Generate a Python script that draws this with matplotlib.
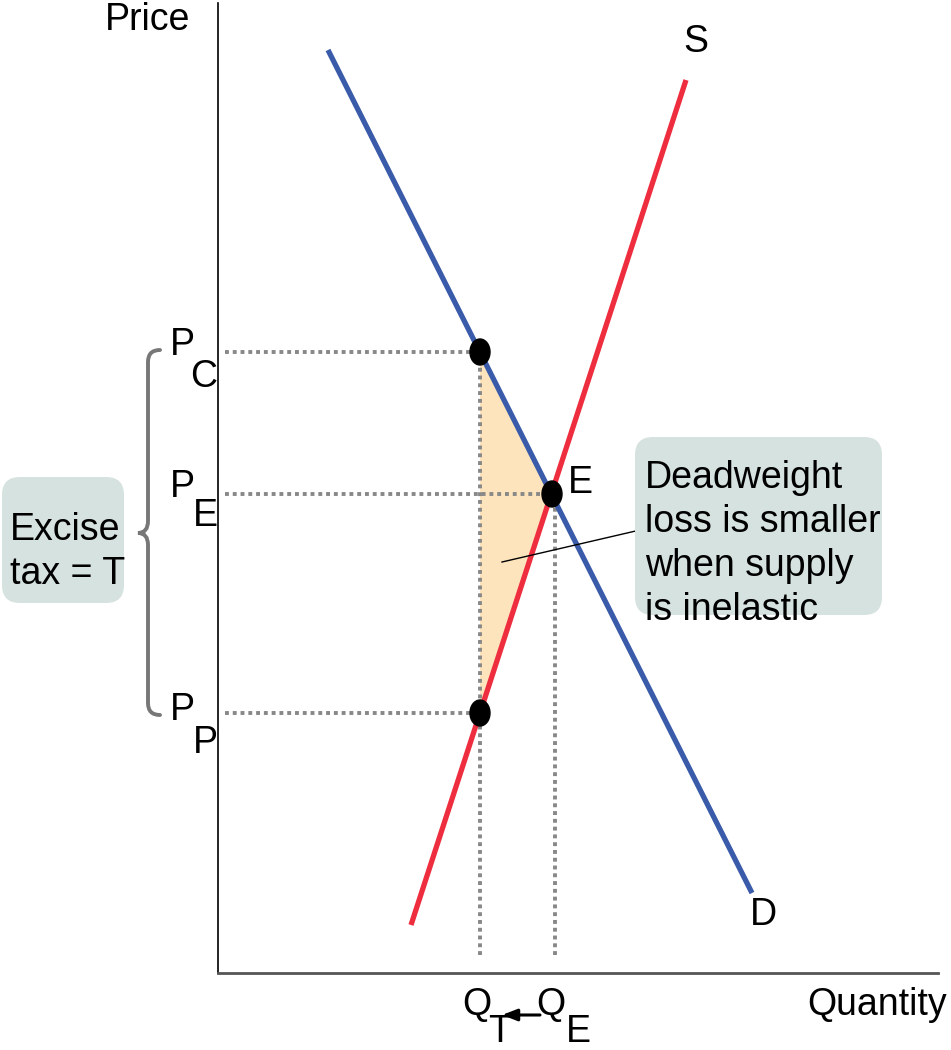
import matplotlib
matplotlib.use("Agg")
import matplotlib.pyplot as plt
from matplotlib.patches import FancyBboxPatch, Ellipse, PathPatch, Polygon
from matplotlib.path import Path

plt.rcParams['font.family'] = ['Liberation Sans', 'DejaVu Sans']

# curves (quantity, price) in chart units
demand_q = [110, 534]
demand_p = [923, 80]
supply_q = [193, 468]
supply_p = [48, 893]

# key points
q_t, q_e = 262, 334
p_c, p_e, p_p = 621, 479, 260

fig = plt.figure(figsize=(9.51, 10.5), dpi=100)
ax = fig.add_axes([218 / 951, 77 / 1050, 720 / 951, 970 / 1050])
ax.set_xlim(0, 720)
ax.set_ylim(0, 970)
for side in ['top', 'right']:
    ax.spines[side].set_visible(False)
ax.spines['left'].set_color('black')
ax.spines['left'].set_linewidth(1.2)
ax.spines['bottom'].set_color('#555555')
ax.spines['bottom'].set_linewidth(2)
ax.set_xticks([])
ax.set_yticks([])

fs = 27
grey = '#888888'

# deadweight loss triangle
ax.add_patch(Polygon([[q_t, p_c], [q_e, p_e], [q_t, p_p]], closed=True,
                     facecolor='#fde4bd', edgecolor='none', zorder=1))

# dotted guides
dot = dict(color=grey, lw=2.8, linestyle=(0, (1, 1)), zorder=2)
ax.plot([7, q_t], [p_c, p_c], **dot)
ax.plot([7, q_e], [p_e, p_e], **dot)
ax.plot([7, q_t], [p_p, p_p], **dot)
ax.plot([q_t, q_t], [18, p_c], **dot)
ax.plot([q_e + 3, q_e + 3], [18, p_e], **dot)

# demand / supply
ax.plot(demand_q, demand_p, color='#3a5ba9', lw=3.8, solid_capstyle='butt', zorder=3)
ax.plot(supply_q, supply_p, color='#ee2e3f', lw=3.8, solid_capstyle='butt', zorder=4)

# points
for q, p in [(q_t, p_c), (q_e, p_e), (q_t, p_p)]:
    ax.add_patch(Ellipse((q, p), 20, 26, color='black', zorder=5))

# leader line
ax.plot([284, 422], [411, 443], color='black', lw=1, zorder=6)

# annotation box
ax.add_patch(FancyBboxPatch((417, 358), 247, 178,
                            boxstyle='round,pad=0,rounding_size=18',
                            facecolor='#d6e2df', edgecolor='none',
                            clip_on=False, zorder=7))
ax.text(427, 513, 'Deadweight\nloss is smaller\nwhen supply\nis inelastic',
        fontsize=fs, ha='left', va='top', linespacing=1.29, zorder=8)

# excise tax box
ax.add_patch(FancyBboxPatch((-216, 370), 122, 126,
                            boxstyle='round,pad=0,rounding_size=18',
                            facecolor='#d6e2df', edgecolor='none',
                            clip_on=False, zorder=7))
ax.text(-208, 421, 'Excise\ntax = T', fontsize=fs, ha='left', va='center',
        linespacing=1.29, zorder=8)

# brace
verts = [(-58, 623), (-70, 623), (-70, 611),
         (-70, 452),
         (-70, 440), (-80, 440),
         (-70, 440), (-70, 428),
         (-70, 270),
         (-70, 258), (-58, 258)]
codes = [Path.MOVETO, Path.CURVE3, Path.CURVE3,
         Path.LINETO,
         Path.CURVE3, Path.CURVE3,
         Path.CURVE3, Path.CURVE3,
         Path.LINETO,
         Path.CURVE3, Path.CURVE3]
ax.add_patch(PathPatch(Path(verts, codes), facecolor='none', edgecolor='#777777',
                       lw=2.8, clip_on=False, capstyle='round'))

# labels
lab = dict(fontsize=fs, ha='center', va='center')
ax.text(-70, 953, 'Price', **lab)
ax.text(659, -32, 'Quantity', **lab)
ax.text(478, 931, 'S', **lab)
ax.text(545, 58, 'D', **lab)
ax.text(362, 490, 'E', **lab)

ax.text(-36, 628, 'P', **lab)
ax.text(-14, 596, 'C', **lab)
ax.text(-36, 486, 'P', **lab)
ax.text(-13, 457, 'E', **lab)
ax.text(-36, 263, 'P', **lab)
ax.text(-13, 230, 'P', **lab)

ax.text(259, -32, 'Q', **lab)
ax.text(282, -59, 'T', **lab)
ax.text(333, -32, 'Q', **lab)
ax.text(360, -59, 'E', **lab)
ax.annotate('', xy=(284, -42), xytext=(322, -42), annotation_clip=False,
            arrowprops=dict(arrowstyle='-|>,head_length=0.9,head_width=0.35',
                            color='black', lw=2.2, shrinkA=0, shrinkB=0))

fig.savefig('out.png', dpi=100)
